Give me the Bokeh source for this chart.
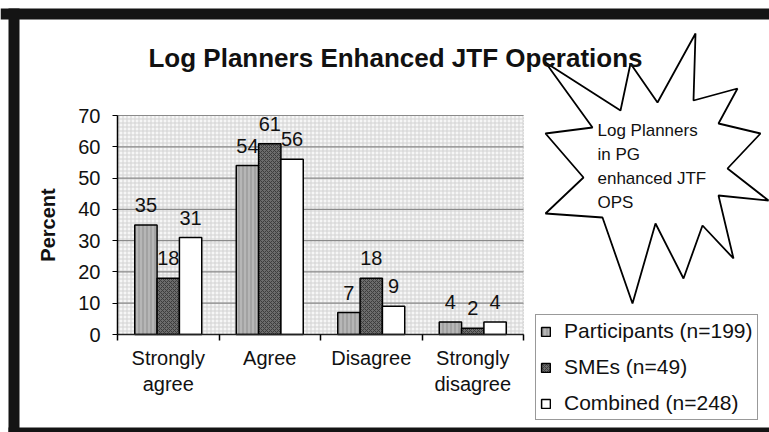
from bokeh.plotting import figure
from bokeh.models import (Range1d, FixedTicker, Label, Legend, LegendItem,
                          BoxAnnotation, PolyAnnotation, ColumnDataSource, LabelSet)
from bokeh.embed import file_html
from bokeh.resources import INLINE
from bokeh.core.properties import value

# ---------------- data ----------------
categories = ["Strongly\nagree", "Agree", "Disagree", "Strongly\ndisagree"]
series_names = ["Participants (n=199)", "SMEs (n=49)", "Combined (n=248)"]
participants = [35, 54, 7, 4]
smes = [18, 61, 18, 2]
combined = [31, 56, 9, 4]
y_ticks = [0, 10, 20, 30, 40, 50, 60, 70]
title_text = "Log Planners Enhanced JTF Operations"
y_label = "Percent"
callout_lines = ["Log Planners", "in PG", "enhanced JTF", "OPS"]

FONT = "Liberation Sans"
W, H = 769, 432

# plot-area geometry on the canvas (pixels)
PX_L, PX_R, PX_T, PX_B = 117, 523, 115, 334
n_cat = len(categories)
y_max = y_ticks[-1]
sx = (PX_R - PX_L) / n_cat
sy = (PX_B - PX_T) / y_max
x_range = Range1d(-PX_L / sx, n_cat + (W - PX_R) / sx)
y_range = Range1d(-(H - PX_B) / sy, y_max + PX_T / sy)

p = figure(width=W, height=H, output_backend="svg", toolbar_location=None,
           x_range=x_range, y_range=y_range,
           min_border_left=0, min_border_top=0, min_border_right=0, min_border_bottom=0)
p.background_fill_color = "white"
p.border_fill_color = "white"
p.outline_line_color = None
p.xgrid.visible = False
p.ygrid.visible = False

# textured plot area with dotted outline
p.add_layout(BoxAnnotation(left=0, right=n_cat, bottom=0, top=y_max,
                           fill_color="#f6f6f6", fill_alpha=1,
                           line_color="#666666", line_dash="1 2", line_width=1,
                           hatch_pattern="+", hatch_color="#d2d2d2", hatch_scale=4,
                           hatch_weight=1, level="image"))

# horizontal gridlines
p.segment(x0=[0] * len(y_ticks), x1=[n_cat] * len(y_ticks), y0=y_ticks, y1=y_ticks,
          line_color="#8a8a8a", line_width=1.2, level="underlay")

series_values = [participants, smes, combined]
fills = ["#b6b6b6", "#6c6c6c", "#ffffff"]
hatches = ["|", "x", " "]
hatch_cols = ["#8e8e8e", "#3c3c3c", "#ffffff"]
bar_w = 0.22
offsets = [-bar_w, 0.0, bar_w]

renderers = []
sources = []
for vals, fc, hp, hc, off in zip(series_values, fills, hatches, hatch_cols, offsets):
    xs = [i + 0.5 + off for i in range(n_cat)]
    src = ColumnDataSource(dict(x=xs, top=vals, text=[str(v) for v in vals]))
    r = p.vbar(x="x", top="top", bottom=0, width=bar_w, source=src,
               fill_color=fc, line_color="black", line_width=1.5,
               hatch_pattern=hp, hatch_color=hc, hatch_scale=4, hatch_weight=1)
    renderers.append(r)
    sources.append(src)

for src in sources:
    p.add_layout(LabelSet(x="x", y="top", text="text", source=src,
                          text_align="center", text_baseline="bottom", y_offset=13,
                          text_font=value(FONT), text_font_size="20px",
                          text_color="#111111"))

# axes (fixed at the data origin)
p.yaxis.fixed_location = 0
p.yaxis.bounds = (0, y_max)
p.yaxis.ticker = FixedTicker(ticks=y_ticks)
p.yaxis.minor_tick_line_color = None
p.yaxis.major_tick_out = 5
p.yaxis.major_tick_in = 0
p.yaxis.major_label_standoff = 12
p.yaxis.major_label_text_font = FONT
p.yaxis.major_label_text_font_size = "20px"
p.yaxis.major_label_text_color = "#111111"
p.yaxis.axis_label = y_label
p.yaxis.axis_label_text_font = FONT
p.yaxis.axis_label_text_font_style = "bold"
p.yaxis.axis_label_text_font_size = "20px"
p.yaxis.axis_label_text_color = "#111111"
p.yaxis.axis_label_standoff = 16
p.yaxis.axis_line_color = "black"
p.yaxis.axis_line_width = 1.5

centers = [i + 0.5 for i in range(n_cat)]
bounds = [float(i) for i in range(n_cat + 1)]
p.xaxis.fixed_location = 0
p.xaxis.bounds = (0, n_cat)
p.xaxis.ticker = FixedTicker(ticks=centers, minor_ticks=bounds)
p.xaxis.major_label_overrides = {c: lab for c, lab in zip(centers, categories)}
p.xaxis.major_tick_line_color = None
p.xaxis.minor_tick_out = 6
p.xaxis.minor_tick_in = 0
p.xaxis.minor_tick_line_color = "black"
p.xaxis.minor_tick_line_width = 1.5
p.xaxis.major_label_standoff = 6
p.xaxis.major_label_text_font = FONT
p.xaxis.major_label_text_font_size = "20px"
p.xaxis.major_label_text_color = "#111111"
p.xaxis.axis_line_color = "#222222"
p.xaxis.axis_line_width = 1.5

# callout star (canvas pixels)
star = [(545, 62), (620, 110), (630, 63), (657, 102), (695, 33), (693, 100), (737, 88),
        (718, 123), (760, 133), (727, 168), (768, 200), (718, 195), (733, 258), (702, 225),
        (683, 278), (655, 223), (632, 303), (602, 217), (545, 213), (583, 177), (545, 133),
        (592, 127)]
p.add_layout(PolyAnnotation(xs=[x for x, _ in star], ys=[y for _, y in star],
                            xs_units="canvas", ys_units="canvas",
                            fill_color="white", fill_alpha=1, line_color="black",
                            line_alpha=1, line_width=1.8))
for k, line in enumerate(callout_lines):
    p.add_layout(Label(x=597, y=130 + 24 * k, x_units="canvas", y_units="canvas",
                       text=line, text_font=FONT, text_font_size="17px",
                       text_baseline="alphabetic", text_color="#111111"))

# title
p.add_layout(Label(x=395, y=57, x_units="canvas", y_units="canvas",
                   text=title_text, text_font=FONT, text_font_size="26px",
                   text_font_style="bold", text_align="center",
                   text_baseline="alphabetic", text_color="#111111"))

# scan frame bands
for l, r_, t, b in [(0, W, 8, 19), (8, 19, 8, H), (8, W, 427, H)]:
    p.add_layout(BoxAnnotation(left=l, right=r_, top=t, bottom=b,
                               left_units="canvas", right_units="canvas",
                               top_units="canvas", bottom_units="canvas",
                               fill_color="#141414", fill_alpha=1, line_color=None))

# legend
legend = Legend(items=[LegendItem(label=n, renderers=[r]) for n, r in zip(series_names, renderers)],
                location=(535, H - 420), glyph_width=11, glyph_height=11, label_standoff=13,
                padding=4, spacing=12, margin=0, label_text_font=FONT,
                label_text_font_size="21px", label_text_line_height=1.0,
                label_text_color="#111111",
                border_line_color="#333333", border_line_width=1.5,
                background_fill_color="white", background_fill_alpha=1)
p.add_layout(legend)

open("out.html", "w").write(file_html(p, INLINE))
